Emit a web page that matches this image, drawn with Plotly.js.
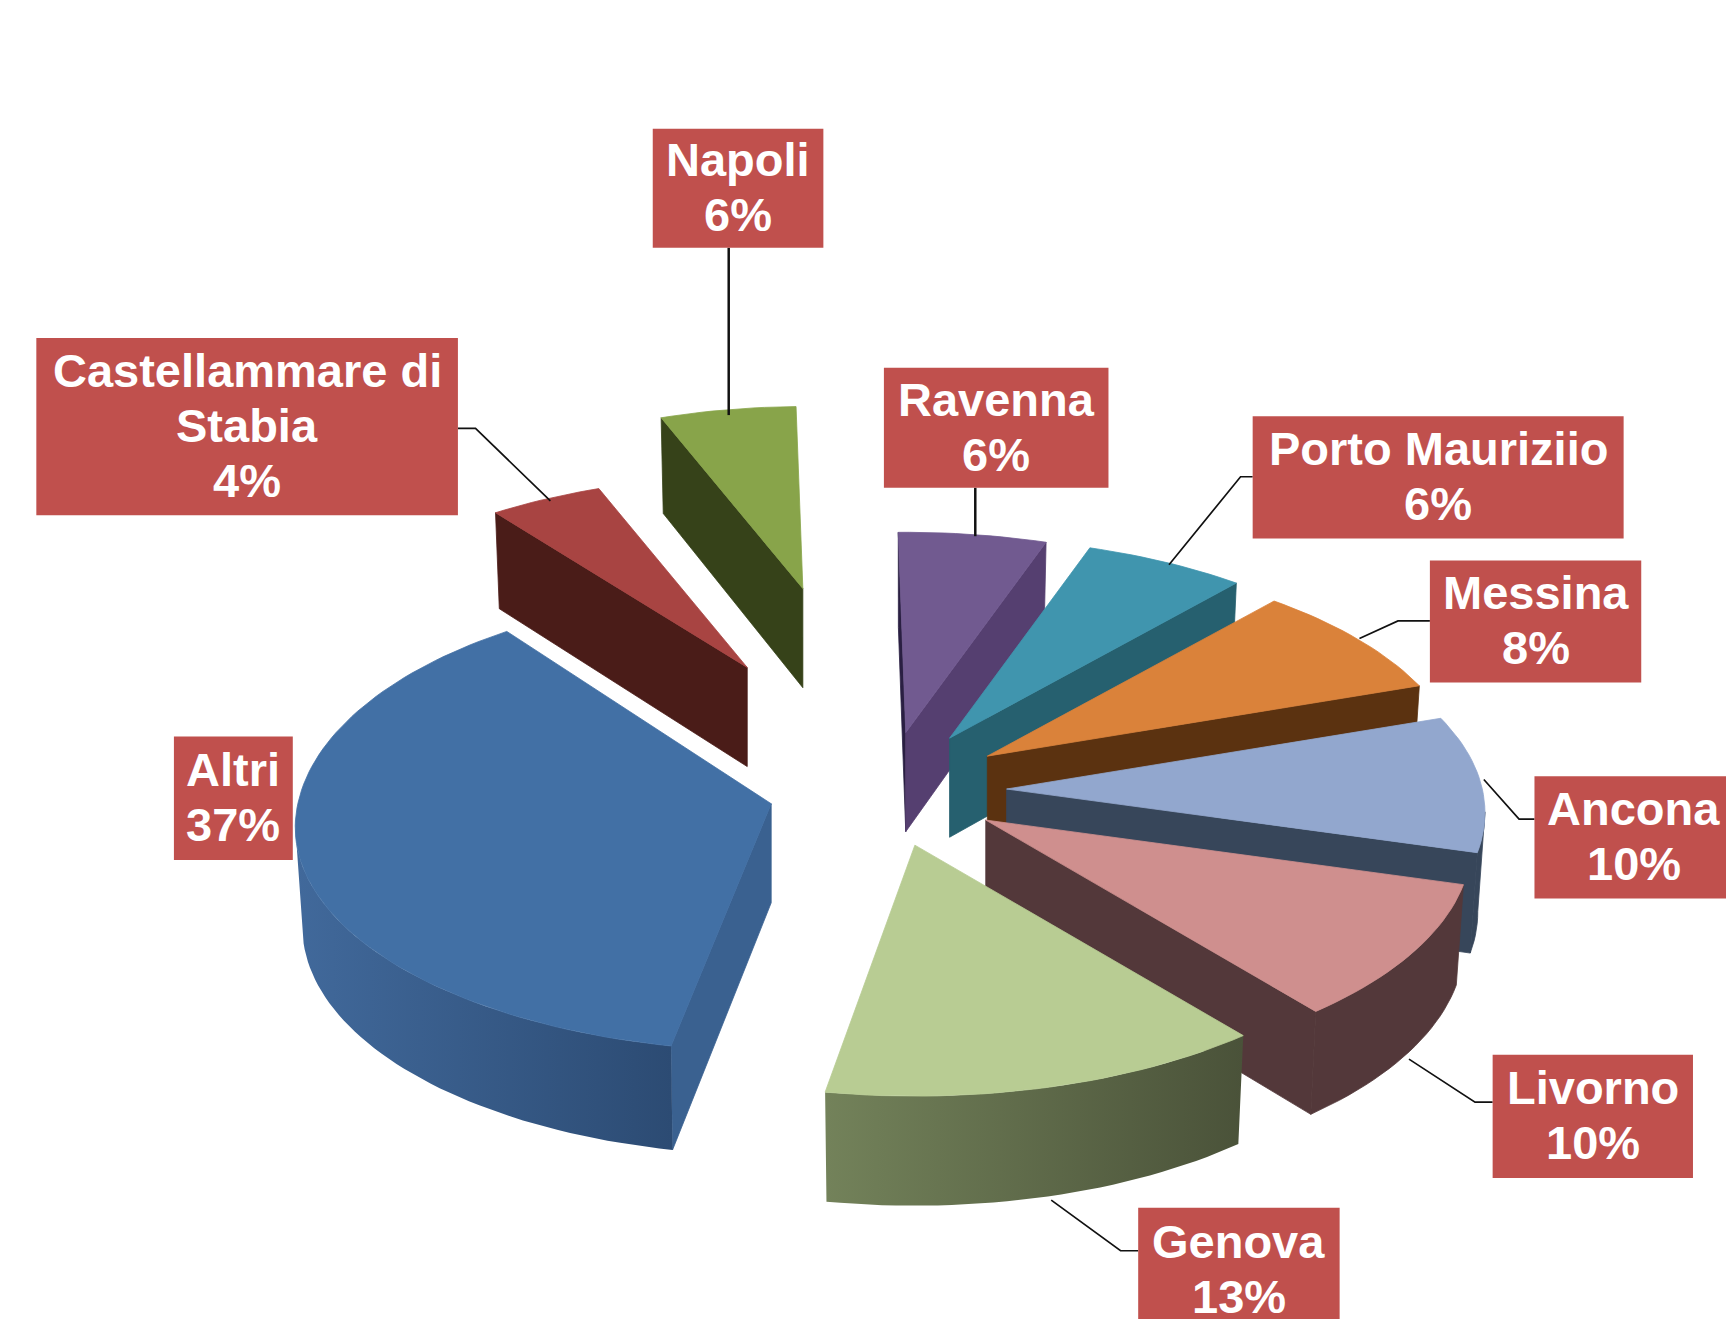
<!DOCTYPE html>
<html>
<head>
<meta charset="utf-8">
<script src="https://cdn.plot.ly/plotly-3.0.1.min.js"></script>
<style>html,body{margin:0;padding:0;background:#fff}#chart{width:1726px;height:1319px}</style>
</head>
<body>
<div id="chart"></div>
<script>
// ---- data, clockwise from the top ----
const categories = ['Ravenna','Porto Mauriziio','Messina','Ancona','Livorno','Genova','Altri','Castellammare di<br>Stabia','Napoli'];
const shares     = [5.55,6.05,8.3,9.8,9.7,13.45,36.9,4.45,5.6];   // unrounded shares
const pulls      = [0.25,0.25,0.25,0.25,0.25,0.25,0.25,0.62,0.95];

// ---- styles ----
const topColors   = ['#715a90','#4095ae','#da823a','#92a7ce','#cf8f8e','#b8cc93','#4270a5','#a84442','#88a44a'];
const leftWalls   = ['#2a1f42','#26606f','#5b3210','#37465a','#53383a','#4b533a','#3a6190','#4a1c18','#364219'];
const rightWalls  = ['#553f70','#26606f','#5b3210','#37465a','#53383a','#4b533a','#3a6190','#4a1c18','#364219'];
const rimFrom     = ['#553f70','#26606f','#5b3210','#37465a','#53383a','#73825a','#41699b','#4a1c18','#364219'];
const rimTo       = ['#553f70','#26606f','#5b3210','#37465a','#53383a','#4a5239','#2c4b73','#4a1c18','#364219'];
const drawOrder   = [8,7,0,1,2,3,4,5,6];
const nudgeX      = [0,3,2,1,0,-2,-1,3,2];
const nudgeY      = [-3,-4,-3,0,-1,1,0,-3,4];
const scaleAdj    = [1,1,1,1.005,1.02,1.015,1,1,1];
const backStretch = [1,1,1,1,1,1,1.06,1,1];
const startTrim   = [0,0,0,0,0,0,1.3,0,0];
const depths      = [90,90,90,90,90,95,90,90,90];

// ---- label boxes and leader lines, in the chart's 1568x1198 frame ----
const boxLeft   = [803,1138,1299,1394,1356,1034,158,33,593];
const boxTop    = [334,378,509,705,958,1097,669,307,117];
const boxRight  = [1007,1475,1491,1574,1538,1217,266,416,748];
const boxBottom = [443,489,620,816,1070,1210,781,468,225];
const leaderX = [[886,886],[1138,1127,1062],[1299,1270,1235],[1394,1380,1348],[1356,1340,1280],[1034,1018,955],[],[416,432,500],[662,662]];
const leaderY = [[443,487],[433,433,513],[564,564,580],[744,744,708],[1001,1001,962],[1136,1136,1090],[],[389,389,455],[225,377]];
const leaderW = [2.5,1.7,1.7,1.7,1.7,1.7,0,1.7,2.5];

// ---- projection of the tilted pie ----
const FRAME_W = 1568, FRAME_H = 1198;
const cx = 806, cy = 718, A = 430, B = 201, K = 0.105, START = -1;
const BOTTOM_SX = 0.985, BOTTOM_SY = 1.02, FAR = 0.13, LINE_STEP = 50;
const rad = d => d * Math.PI / 180;
const rimVec = (d, sc, back) => {
  const s = Math.sin(rad(d)), c = Math.cos(rad(d)), w = 1 + K * c;
  return [sc * A * s / w, -sc * B * c / w * (c > 0 ? back : 1)];
};

const traces = [];
function poly(xs, ys, color, color2) {
  const gradient = color2 && color2 !== color;
  const t = {type:'scatter', mode:'lines', x:xs.concat(xs[0]), y:ys.concat(ys[0]),
    fill:'toself', line:{width:gradient ? 0 : 0.8, color:color}, fillcolor:color, hoverinfo:'skip', showlegend:false};
  if (gradient) {
    t.fillgradient = {type:'horizontal', start:Math.min(...xs), stop:Math.max(...xs),
      colorscale:[[0,color],[1,color2]]};
  }
  traces.push(t);
}

const shareSum = shares.reduce((a, b) => a + b, 0);
let acc = START;
const slices = shares.map((v, i) => {
  const a0 = acc, a1 = acc + v / shareSum * 360; acc = a1;
  const m = rad((a0 + a1) / 2);
  return {i, a0: a0 + startTrim[i], a1, sc: (1 - FAR * (pulls[i] - 0.25)) * scaleAdj[i], depth: depths[i],
    ax: cx + pulls[i] * A * Math.sin(m) + nudgeX[i], ay: cy - pulls[i] * B * Math.cos(m) + nudgeY[i]};
});

function wall(s, p, color) {
  const bx = v => s.ax + v[0] * BOTTOM_SX, by = v => s.ay + s.depth + v[1] * BOTTOM_SY;
  poly([s.ax, s.ax + p[0], bx(p), s.ax], [s.ay, s.ay + p[1], by(p), s.ay + s.depth], color);
}

drawOrder.forEach(idx => {
  const s = slices[idx];
  const n = Math.max(8, Math.round((s.a1 - s.a0) / 1.5));
  const rim = [];
  for (let j = 0; j <= n; j++) rim.push(rimVec(s.a0 + (s.a1 - s.a0) * j / n, s.sc, backStretch[idx]));
  const p0 = rim[0], p1 = rim[n];
  if (p0[0] < 0) wall(s, p0, leftWalls[idx]);
  if (p1[0] > 0) wall(s, p1, rightWalls[idx]);
  // outer wall: the part of the rim running right to left on the page
  const vis = [];
  for (let j = 0; j < n; j++) if (rim[j+1][0] < rim[j][0]) { if (!vis.length) vis.push(rim[j]); vis.push(rim[j+1]); }
  if (vis.length > 1) {
    const topX = vis.map(v => s.ax + v[0]), topY = vis.map(v => s.ay + v[1]);
    const botX = vis.map(v => s.ax + v[0] * BOTTOM_SX).reverse();
    const botY = vis.map(v => s.ay + s.depth + v[1] * BOTTOM_SY).reverse();
    poly(topX.concat(botX), topY.concat(botY), rimFrom[idx], rimTo[idx]);
  }
  poly([s.ax].concat(rim.map(v => s.ax + v[0])), [s.ay].concat(rim.map(v => s.ay + v[1])), topColors[idx]);
});

// leaders
categories.forEach((c, i) => {
  if (!leaderX[i].length) return;
  traces.push({type:'scatter', mode:'lines', x:leaderX[i], y:leaderY[i],
    line:{color:'#111', width:leaderW[i]}, hoverinfo:'skip', showlegend:false});
});

const shapes = categories.map((c, i) => ({type:'rect', xref:'x', yref:'y', layer:'above',
  x0:boxLeft[i], x1:boxRight[i], y0:boxTop[i], y1:boxBottom[i],
  fillcolor:'#c0504d', line:{width:0}}));

const annotations = [];
categories.forEach((c, i) => {
  const lines = c.split('<br>').concat(Math.round(shares[i]) + '%');
  const midX = (boxLeft[i] + boxRight[i]) / 2, midY = (boxTop[i] + boxBottom[i]) / 2;
  lines.forEach((txt, j) => annotations.push({xref:'x', yref:'y', x:midX,
    y:midY - 1 + (j - (lines.length - 1) / 2) * LINE_STEP,
    text:'<b>' + txt + '</b>', showarrow:false, align:'center',
    font:{family:'"Liberation Sans", Arial, sans-serif', size:47, color:'#fff'}}));
});

Plotly.newPlot('chart', traces, {
  width:1726, height:1319, margin:{l:0,r:0,t:0,b:0},
  paper_bgcolor:'#fff', plot_bgcolor:'#fff', showlegend:false, hovermode:false,
  xaxis:{range:[0,FRAME_W], visible:false, fixedrange:true},
  yaxis:{range:[FRAME_H,0], visible:false, fixedrange:true},
  shapes, annotations
}, {displayModeBar:false, staticPlot:true});
</script>
</body>
</html>
